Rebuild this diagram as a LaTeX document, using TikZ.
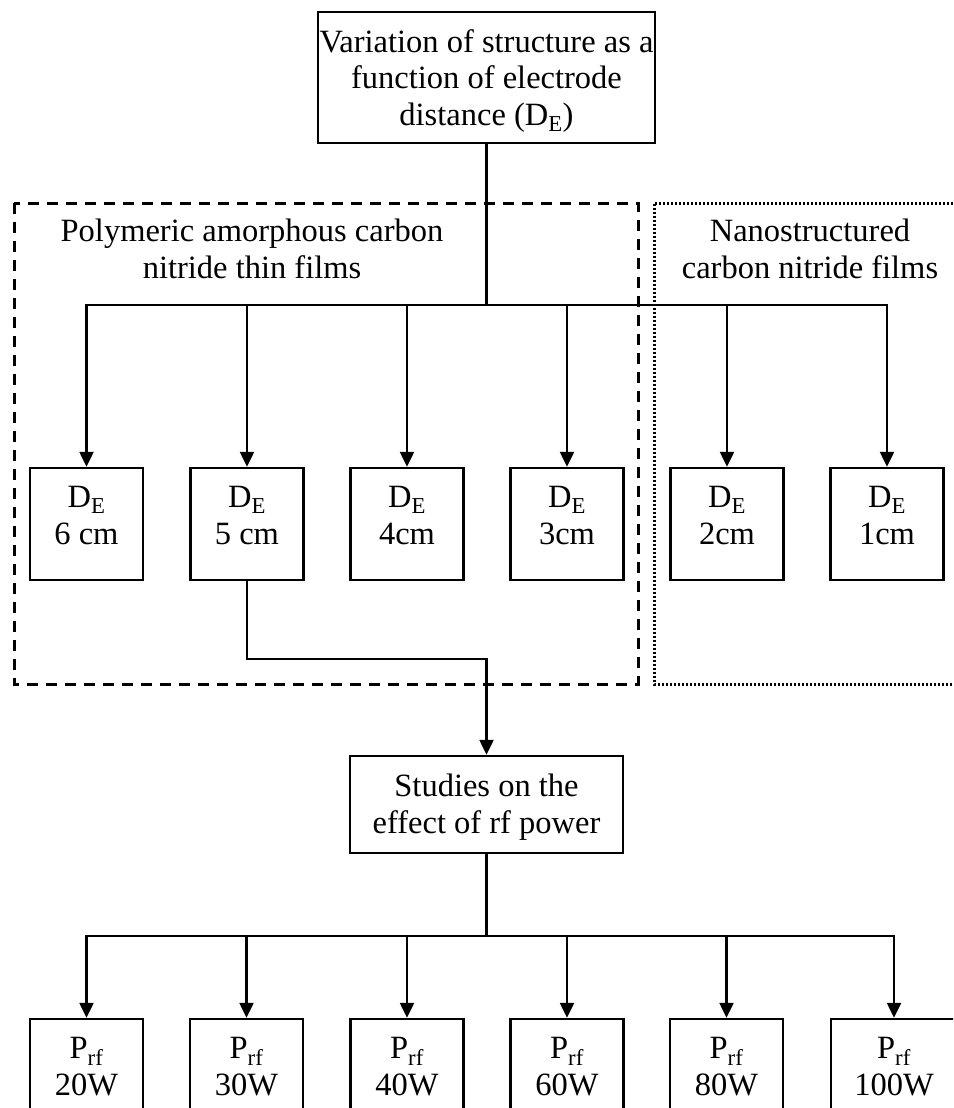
\documentclass[tikz,border=0pt]{standalone}
\usepackage{fontspec}
\setmainfont{Liberation Serif}
\usetikzlibrary{arrows.meta}
\begin{document}
\begin{tikzpicture}[x=1pt,y=-1pt,
  txt/.style={font=\fontsize{32.5}{36.5}\selectfont},
  box/.style={draw, line width=2.4pt, align=center, inner sep=0pt, txt},
  dbox/.style={box, minimum width=113pt, minimum height=112pt,
    text height=58pt, text depth=18pt},
  pbox/.style={dbox},
  lbl/.style={align=center, inner sep=0pt, txt, anchor=base},
  link/.style={line width=2.3pt},
  arr/.style={link, -{Triangle[length=15pt,width=14pt]}},
  grpA/.style={line width=3pt, dash pattern=on 11pt off 8pt},
  grpB/.style={line width=3pt, dash pattern=on 2.4pt off 1.6pt}]
\path[use as bounding box, clip] (0,0) rectangle (953,1108);

% group frames
\draw[grpA] (14,203) rectangle (638,684);
\draw[grpB] (965,203) -- (654,203) -- (654,684) -- (965,684);
\node[lbl] (ga) at (252,278) {Polymeric amorphous carbon\\nitride thin films};
\node[lbl] (gb) at (810,278) {Nanostructured\\carbon nitride films};

% top node
\node[box, minimum width=337pt, minimum height=131pt,
  text height=100pt, text depth=5pt] (top) at (486.5,77.5)
  {Variation of structure as a\\function of electrode\\distance (D\textsubscript{E})};

% electrode distance boxes
\node[dbox] (d6) at (86.5,524) {D\textsubscript{E}\\6 cm};
\node[dbox] (d5) at (247,524)  {D\textsubscript{E}\\5 cm};
\node[dbox] (d4) at (407,524)  {D\textsubscript{E}\\4cm};
\node[dbox] (d3) at (567,524)  {D\textsubscript{E}\\3cm};
\node[dbox] (d2) at (727,524)  {D\textsubscript{E}\\2cm};
\node[dbox] (d1) at (887,524)  {D\textsubscript{E}\\1cm};

% rf power study
\node[box, minimum width=273pt, minimum height=97pt,
  text height=62pt, text depth=5pt] (st) at (486.5,804.5)
  {Studies on the\\effect of rf power};

% rf power boxes
\node[pbox] (p20) at (86.5,1075) {P\textsubscript{rf}\\20W};
\node[pbox] (p30) at (246.5,1075) {P\textsubscript{rf}\\30W};
\node[pbox] (p40) at (407,1075) {P\textsubscript{rf}\\40W};
\node[pbox] (p60) at (567,1075) {P\textsubscript{rf}\\60W};
\node[pbox] (p80) at (726.5,1075) {P\textsubscript{rf}\\80W};
\node[pbox, minimum width=126pt] (p100) at (894,1075) {P\textsubscript{rf}\\100W};

% connectors
\coordinate (b1) at (486.5,305);
\coordinate (k) at (486.5,659);
\coordinate (b2) at (486.5,936);
\draw[link] (top.south) -- (b1);
\foreach \n in {d6,d5,d4,d3,d2,d1} \draw[arr] (b1) -| (\n.north);
\draw[arr] (d5.south) |- (k) -- (st.north);
\draw[link] (st.south) -- (b2);
\foreach \n in {p20,p30,p40,p60,p80,p100} \draw[arr] (b2) -| (\n.north);
\end{tikzpicture}
\end{document}
